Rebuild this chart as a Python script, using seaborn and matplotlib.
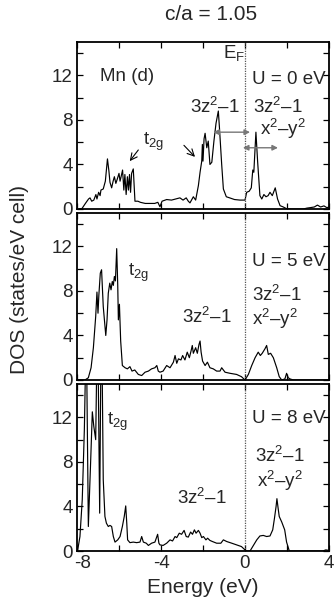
import matplotlib
matplotlib.use("Agg")
import matplotlib.pyplot as plt
import matplotlib.transforms as mtransforms
import seaborn as sns
import pandas as pd
from matplotlib.ticker import MultipleLocator

# ---------------- data ----------------
energy_u0 = [-7.9, -7.76, -7.6, -7.45, -7.38, -7.3, -7.2, -7.1, -7.05, -6.97, -6.9, -6.86,
             -6.75, -6.65, -6.55, -6.48, -6.43, -6.35, -6.28, -6.22, -6.15, -6.08, -6.0,
             -5.95, -5.9, -5.83, -5.77, -5.72, -5.66, -5.6, -5.55, -5.5, -5.45, -5.4, -5.32,
             -5.24, -5.1, -4.98, -4.75, -4.5, -4.3, -4.15, -4.05, -3.95, -3.73, -3.5, -3.3,
             -3.1, -2.95, -2.8, -2.7, -2.62, -2.46, -2.35, -2.22, -2.14, -2.06, -2.03, -2.0,
             -1.95, -1.9, -1.82, -1.75, -1.67, -1.58, -1.48, -1.38, -1.27, -1.22, -1.11,
             -1.03, -0.89, -0.73, -0.5, -0.24, 0.0, 0.08, 0.2, 0.3, 0.37, 0.42, 0.52, 0.6,
             0.71, 0.8, 0.9, 1.0, 1.1, 1.19, 1.3, 1.44, 1.55, 1.67, 1.8, 1.98, 2.2, 2.5,
             2.78, 2.95, 3.1, 3.3, 3.45, 3.6, 3.76, 3.9, 4.0]
dos_u0 = [0.0, 0.05, 0.5, 0.9, 1.0, 0.7, 0.8, 1.3, 0.9, 1.5, 1.2, 1.7,
          1.8, 2.5, 4.5, 3.4, 2.4, 1.9, 2.5, 2.9, 2.3, 2.7, 3.2,
          2.5, 2.9, 3.5, 1.7, 3.1, 1.3, 2.9, 1.7, 3.1, 1.5, 3.2, 3.6,
          0.7, 0.7, 0.6, 0.5, 0.5, 0.5, 0.6, 0.2, 0.7, 0.85, 0.8, 0.9,
          1.0, 0.8, 1.0, 0.7, 0.55, 1.1, 0.8, 2.1, 3.3, 4.3, 5.8, 4.3,
          6.3, 6.8, 5.5, 6.1, 4.0, 4.2, 6.1, 7.7, 8.8, 7.4, 4.0,
          1.8, 1.1, 1.0, 0.85, 0.8, 0.8, 1.5, 1.6, 1.9, 3.5, 3.3, 6.9, 4.3,
          1.2, 0.9, 1.3, 1.1, 1.2, 1.5, 1.2, 1.9, 0.9, 0.3, 0.2, 0.03, 0.0, 0.0,
          0.0, 0.08, 0.12, 0.18, 0.35, 0.18, 0.28, 0.12, 0.18]

energy_u5 = [-8.0, -7.62, -7.46, -7.33, -7.22, -7.11, -7.05, -7.0, -6.96, -6.89, -6.83,
             -6.75, -6.63, -6.57, -6.51, -6.44, -6.38, -6.32, -6.27, -6.22, -6.17, -6.11,
             -6.06, -6.03, -5.98, -5.92, -5.84, -5.71, -5.6, -5.48, -5.38, -5.25, -5.08,
             -4.92, -4.76, -4.6, -4.45, -4.29, -4.2, -4.13, -4.05, -3.9, -3.73, -3.57,
             -3.41, -3.33, -3.25, -3.17, -3.05, -2.97, -2.86, -2.75, -2.65, -2.57, -2.51,
             -2.46, -2.35, -2.27, -2.19, -2.14, -2.09, -2.02, -1.9, -1.79, -1.67, -1.51,
             -1.35, -1.19, -1.11, -0.95, -0.71, -0.4, -0.17, 0.0, 0.16, 0.32, 0.48, 0.63,
             0.73, 0.82, 0.95, 1.03, 1.11, 1.22, 1.35, 1.51, 1.63, 1.75, 1.9, 1.98, 2.06,
             2.14, 2.3, 4.0]
dos_u5 = [0.0, 0.0, 0.2, 1.1, 2.9, 5.7, 7.9, 6.0, 7.6, 9.6, 9.9,
          6.6, 4.0, 5.4, 7.8, 8.7, 8.1, 8.85, 8.5, 9.3, 8.9, 11.8,
          8.5, 5.4, 6.8, 3.5, 1.3, 1.1, 1.0, 1.2, 0.8, 0.9, 0.5,
          0.4, 0.7, 0.8, 1.0, 1.1, 1.3, 0.8, 0.7, 0.8, 1.3, 1.1,
          1.6, 2.2, 1.5, 1.9, 1.8, 2.2, 1.8, 2.5, 2.0, 2.6, 3.1,
          2.4, 2.9, 2.4, 3.2, 3.5, 2.5, 1.7, 1.3, 1.6, 1.1, 1.0,
          0.8, 0.8, 1.1, 0.7, 0.6, 0.5, 0.3, 0.0, 0.5, 1.3, 2.0, 2.5,
          2.2, 2.4, 2.8, 3.1, 2.3, 2.4, 2.0, 1.1, 0.3, 0.0, 0.1, 0.6, 0.2,
          0.1, 0.0, 0.0]

energy_u8 = [-8.0, -7.97, -7.86, -7.75, -7.65, -7.59, -7.54, -7.46, -7.36, -7.27, -7.2,
             -7.11, -7.05, -7.0, -6.92, -6.86, -6.81, -6.75, -6.67, -6.6, -6.51, -6.43,
             -6.35, -6.27, -6.19, -6.06, -5.95, -5.84, -5.75, -5.68, -5.63, -5.59, -5.48,
             -5.32, -5.16, -5.0, -4.92, -4.84, -4.7, -4.6, -4.45, -4.29, -4.16, -4.1,
             -4.05, -3.9, -3.73, -3.57, -3.45, -3.33, -3.25, -3.13, -3.02, -2.9, -2.8,
             -2.7, -2.59, -2.5, -2.41, -2.33, -2.22, -2.14, -2.06, -1.98, -1.86, -1.78,
             -1.67, -1.55, -1.35, -1.15, -1.03, -0.87, -0.63, -0.4, -0.17, 0.0, 0.08,
             0.24, 0.4, 0.56, 0.71, 0.87, 1.03, 1.19, 1.32, 1.4, 1.48, 1.52, 1.58, 1.63,
             1.75, 1.89, 1.98, 2.11, 3.7, 3.85, 4.0]
dos_u8 = [0.0, 0.05, 1.3, 4.6, 10.9, 17.0, 17.0, 2.2, 7.5, 12.5, 11.2,
          10.0, 18.0, 18.0, 3.4, 18.0, 18.0, 6.4, 3.1, 2.5, 2.2, 2.3,
          2.2, 1.3, 0.8, 1.0, 1.3, 2.2, 3.1, 4.05, 2.5, 1.0, 0.75,
          0.8, 0.75, 0.8, 1.3, 0.8, 0.7, 0.5, 0.7, 0.8, 1.5, 0.7,
          0.55, 0.5, 0.7, 1.0, 0.9, 1.3, 1.2, 1.6, 1.5, 1.85, 1.3,
          1.25, 1.7, 1.5, 1.9, 1.6, 1.85, 1.6, 1.2, 1.3, 1.0, 1.15,
          0.95, 0.85, 0.7, 0.7, 1.0, 0.85, 0.7, 0.55, 0.4, 0.1, 0.0,
          0.0, 0.5, 1.0, 1.35, 1.4, 1.3, 1.35, 1.9, 2.9, 4.0, 4.7, 3.8, 3.1,
          2.6, 1.9, 0.8, 0.0, 0.0, 0.1, 0.05]

panel_energies = [energy_u0, energy_u5, energy_u8]
panel_dos = [dos_u0, dos_u5, dos_u8]
panel_labels = ["U = 0 eV", "U = 5 eV", "U = 8 eV"]
x_ticks = [-8, -4, 0, 4]
y_ticks = [0, 4, 8, 12]

# ---------------- style ----------------
sns.set_theme(style="ticks")
plt.rcParams["font.family"] = ["Liberation Sans", "DejaVu Sans"]
plt.rcParams["mathtext.fontset"] = "custom"
plt.rcParams["mathtext.rm"] = "Liberation Sans"
plt.rcParams["mathtext.it"] = "Liberation Sans:italic"
plt.rcParams["mathtext.bf"] = "Liberation Sans:bold"
plt.rcParams["mathtext.default"] = "regular"
plt.rcParams["axes.unicode_minus"] = False

FS = 13.5
fig = plt.figure(figsize=(3.34, 6.04), dpi=100)

W, H = 334.0, 604.0
left, right = 77 / W, 329 / W
tops = [42, 213, 384]
bots = [209, 380, 551]
axes = []
for t, b in zip(tops, bots):
    ax = fig.add_axes([left, 1 - b / H, right - left, (b - t) / H])
    axes.append(ax)

for i, ax in enumerate(axes):
    df = pd.DataFrame({"Energy": panel_energies[i], "DOS": panel_dos[i]})
    sns.lineplot(data=df, x="Energy", y="DOS", ax=ax, color="black", lw=0.85,
                 estimator=None, sort=False)
    ax.axvline(0, color="#555555", lw=0.9, ls=(0, (1, 1)))
    ax.set_xlim(-8, 4)
    ax.set_ylim(0, 15)
    ax.set_xticks(x_ticks)
    ax.set_yticks(y_ticks)
    ax.xaxis.set_minor_locator(MultipleLocator(2))
    ax.yaxis.set_minor_locator(MultipleLocator(2))
    ax.tick_params(which="both", direction="in", top=True, right=True,
                   length=4, width=0.9, labelsize=FS, pad=3, color="black")
    for s in ax.spines.values():
        s.set_linewidth(1.3)
        s.set_color("black")
    ax.set_ylabel("")
    ax.set_xlabel("")
    ax.text(0.33, [11.6, 10.6, 11.9][i], panel_labels[i], fontsize=FS,
            ha="left", va="center")
    if i < 2:
        ax.tick_params(labelbottom=False)

# panel 1 annotations
a = axes[0]
a.text(-6.9, 11.9, "Mn (d)", fontsize=FS, ha="left", va="center")
a.text(-1.05, 14.0, r"E$_{F}$", fontsize=FS, ha="left", va="center")
a.text(-2.62, 9.2, r"3z$^{2}$–1", fontsize=FS, ha="left", va="center")
a.text(0.38, 9.2, r"3z$^{2}$–1", fontsize=FS, ha="left", va="center")
a.text(0.71, 7.2, r"x$^{2}$–y$^{2}$", fontsize=FS, ha="left", va="center")
a.text(-4.86, 6.0, r"t$_{2g}$", fontsize=FS, ha="left", va="center")
a.annotate("", xy=(-5.57, 4.1), xytext=(-5.0, 5.5),
           arrowprops=dict(arrowstyle="->", color="black", lw=0.8))
a.annotate("", xy=(-2.29, 4.5), xytext=(-3.0, 5.9),
           arrowprops=dict(arrowstyle="->", color="black", lw=0.8))
a.annotate("", xy=(-1.51, 6.9), xytext=(0.24, 6.9),
           arrowprops=dict(arrowstyle="<|-|>", color="#777777", lw=1.0,
                           mutation_scale=8, shrinkA=0, shrinkB=0))
a.annotate("", xy=(-0.1, 5.5), xytext=(1.57, 5.5),
           arrowprops=dict(arrowstyle="<|-|>", color="#777777", lw=1.0,
                           mutation_scale=8, shrinkA=0, shrinkB=0))

# panel 2 annotations
a = axes[1]
a.text(-5.57, 9.6, r"t$_{2g}$", fontsize=FS, ha="left", va="center")
a.text(-3.0, 5.7, r"3z$^{2}$–1", fontsize=FS, ha="left", va="center")
a.text(0.33, 7.6, r"3z$^{2}$–1", fontsize=FS, ha="left", va="center")
a.text(0.33, 5.5, r"x$^{2}$–y$^{2}$", fontsize=FS, ha="left", va="center")

# panel 3 annotations
a = axes[2]
a.text(-6.57, 11.6, r"t$_{2g}$", fontsize=FS, ha="left", va="center")
a.text(-3.24, 4.8, r"3z$^{2}$–1", fontsize=FS, ha="left", va="center")
a.text(0.48, 8.5, r"3z$^{2}$–1", fontsize=FS, ha="left", va="center")
a.text(0.57, 6.3, r"x$^{2}$–y$^{2}$", fontsize=FS, ha="left", va="center")
a.set_xlabel("Energy (eV)", fontsize=15, labelpad=4)

# the "-8" label sits slightly right of its tick in the reference
shift = mtransforms.ScaledTranslation(6 / 100, 0, fig.dpi_scale_trans)
first_label = a.get_xticklabels()[0]
first_label.set_transform(first_label.get_transform() + shift)

fig.text(211 / W, 1 - 15 / H, "c/a = 1.05", fontsize=15, ha="center", va="center")
fig.text(20 / W, 1 - 280 / H, "DOS (states/eV cell)", fontsize=15,
         rotation=90, ha="center", va="center")

fig.savefig("out.png", dpi=100)
